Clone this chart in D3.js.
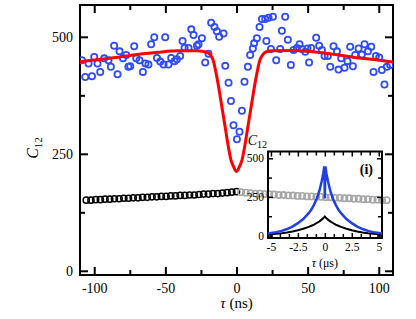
<!DOCTYPE html>
<html>
<head>
<meta charset="utf-8">
<script src="https://cdn.jsdelivr.net/npm/d3@7"></script>
<style>
  body { margin: 0; background: #fff; }
  text { font-family: "Liberation Serif", "Times New Roman", serif; fill: #000; }
</style>
</head>
<body>
<div id="chart"></div>
<script>
const width = 416, height = 319;
const margin = ({top: 5, right: 23, bottom: 44, left: 80});

// main panel data (tau in ns)
const blueTau = [-108.7,-106.3,-104,-101.6,-100,-97.7,-95.8,-93,-90,-88.3,-86,-83.6,-82.2,-79.8,-77.5,-76,
  -74.7,-71.9,-70.5,-68.2,-65.8,-64,-61.9,-60,-57.8,-55.9,-53.6,-51.3,-50.1,-47.8,-45.9,-43.6,-41.9,
  -39.6,-37.9,-36.5,-33.7,-31.8,-30.2,-27.8,-26.7,-24.3,-22,-19.7,-17.8,-15.5,-13.8,-12.2,-9.1,-7.9,
  -5.6,-3.9,-2.1,0.3,2.1,3.8,5.6,8,9.6,11.5,12.4,14.3,16.2,17.9,20.2,21,22.5,24.2,25.6,27.9,30.7,31.9,
  34.2,36.1,38.2,40.1,42.5,44.3,46,48.3,49.9,51,52.5,56,58.1,60,61.9,64.2,65.9,68.2,70.6,71.7,73.6,
  75.9,78,79.9,81.8,83.4,85.8,88.1,90,92.4,94.7,96.3,98,100.3,102.2,104,105.7,108];
const blueC12 = [450,414,443,416,457,443,425,454,450,436,481,420,469,454,461,436,
  437,480,454,450,425,443,441,484,499,455,447,441,499,441,455,448,452,
  459,491,476,476,516,504,481,484,497,445,464,530,521,512,500,507,438,
  402,363,311,281,297,342,404,436,461,475,486,497,521,538,538,491,541,474,543,450,474,513,
  543,494,440,472,476,484,474,468,475,445,476,498,481,472,459,459,436,480,469,430,454,
  434,448,479,437,461,475,462,484,469,479,425,459,456,429,398,436,440];

const fitTau = [-110,-95,-82,-70,-55,-40,-28,-24,-21,-18.5,-16.4,-14,-11.8,-10,-8,-6,-3.9,-2,0,
  2,3.9,6,8,10,11.8,14,16.4,18.5,21,25,40,50,60,72,83,95,110];
const fitC12 = [447,452,457,462,467,470,470,469,467,462,450,417,379,345,308,270,237,222,212,
  222,237,270,308,345,379,417,450,462,468,470,471,469,466,461,456,452,446];

const blackTau = [-105.6,-102.3,-99,-95.7,-92.4,-89.1,-85.8,-82.5,-79.2,-75.9,-72.6,-69.3,-66,-62.7,
  -59.4,-56.1,-52.8,-49.5,-46.2,-42.9,-39.6,-36.3,-33,-29.7,-26.4,-23.1,-19.8,-16.5,-13.2,-9.9,-6.6,-3.3,0];
const blackC12 = [151,151,152,152,153,153,154,154,155,155,156,156,157,157,158,158,159,159,160,160,
  161,161,162,162,163,164,164,165,165,166,167,168,169];
const greyTau = [3.3,6.6,9.9,13.2,16.5,19.8,23.1,26.4,29.7,33,36.3,39.6,42.9,46.2,49.5,52.8,56.1,
  59.4,62.7,66,69.3,72.6,75.9,79.2,82.5,85.8,89.1,92.4,95.7,99,102.3,105.6];
const greyC12 = [168,167,166,165,165,164,164,163,162,162,161,161,160,160,159,159,158,158,157,157,
  156,156,155,155,154,154,153,153,152,152,151,151];

const xMajor = [-100,-50,0,50,100], xMinor = [-75,-25,25,75];
const yMajor = [0,250,500], yMinor = [125,375];

// inset data (tau in us)
const insetTau = [-5.3,-5,-4.5,-4,-3.5,-3,-2.5,-2,-1.5,-1.25,-1,-0.75,-0.5,-0.3,-0.15,-0.05,0,
  0.05,0.15,0.3,0.5,0.75,1,1.25,1.5,2,2.5,3,3.5,4,4.5,5,5.3];
const insetBlue = [14,17,22,30,42,58,80,107,145,168,200,238,290,350,400,448,240,
  448,400,350,290,238,200,168,145,107,80,58,42,30,22,17,14];
const insetBlack = [8,9,12,15,20,26,34,44,56,63,70,81,92,103,112,119,123,
  119,112,103,92,81,70,63,56,44,34,26,20,15,12,9,8];
const ixMajor = [-5,-2.5,0,2.5,5];
const ixMinor = [-4.1667,-3.3333,-1.6667,-0.8333,0.8333,1.6667,3.3333,4.1667];
const iyMajor = [0,250,500], iyMinor = [125,375];

const x = d3.scaleLinear().domain([-110, 110]).range([margin.left, width - margin.right]);
const y = d3.scaleLinear().domain([-9, 568]).range([height - margin.bottom, margin.top]);

const ix = d3.scaleLinear().domain([-5.27, 5.3]).range([268, 382]);
const iy = d3.scaleLinear().domain([-16, 544]).range([238, 151.5]);

const fmt = d => String(d);

const svg = d3.select("#chart").append("svg").attr("width", width).attr("height", height);

function ticks(g, scale, orient, vals, size, labels, pad, fs) {
  let ax = orient === "bottom" ? d3.axisBottom(scale) : orient === "top" ? d3.axisTop(scale)
         : orient === "left" ? d3.axisLeft(scale) : d3.axisRight(scale);
  ax.tickValues(vals).tickSizeInner(-size).tickSizeOuter(0).tickPadding(pad)
    .tickFormat(labels ? fmt : "");
  g.call(ax);
  g.select(".domain").remove();
  g.selectAll(".tick line").attr("stroke", "#000").attr("stroke-width", 2);
  g.selectAll(".tick text").attr("font-size", fs).attr("font-family", "Liberation Serif").attr("fill", "#000");
}

const x0 = margin.left, x1 = width - margin.right, y0 = height - margin.bottom, y1 = margin.top;

// main axes
ticks(svg.append("g").attr("transform", `translate(0,${y0})`), x, "bottom", xMajor, 8, true, 8, 14);
ticks(svg.append("g").attr("transform", `translate(0,${y0})`), x, "bottom", xMinor, 5, false, 0, 14);
ticks(svg.append("g").attr("transform", `translate(0,${y1})`), x, "top", xMajor, 8, false, 0, 14);
ticks(svg.append("g").attr("transform", `translate(0,${y1})`), x, "top", xMinor, 5, false, 0, 14);
ticks(svg.append("g").attr("transform", `translate(${x0},0)`), y, "left", yMajor, 8, true, 7, 14);
ticks(svg.append("g").attr("transform", `translate(${x0},0)`), y, "left", yMinor, 5, false, 0, 14);
ticks(svg.append("g").attr("transform", `translate(${x1},0)`), y, "right", yMajor, 8, false, 0, 14);
ticks(svg.append("g").attr("transform", `translate(${x1},0)`), y, "right", yMinor, 5, false, 0, 14);

svg.append("rect").attr("x", x0).attr("y", y1).attr("width", x1 - x0).attr("height", y0 - y1)
  .attr("fill", "none").attr("stroke", "#000").attr("stroke-width", 2);

// axis labels
const xl = svg.append("text").attr("x", x(0)).attr("y", 308).attr("text-anchor", "middle").attr("font-size", 15);
xl.append("tspan").attr("font-style", "italic").text("τ");
xl.append("tspan").text(" (ns)");

const yl = svg.append("text").attr("transform", "translate(38,148) rotate(-90)")
  .attr("text-anchor", "middle").attr("font-size", 16);
yl.append("tspan").attr("font-style", "italic").text("C");
yl.append("tspan").attr("font-size", 11).attr("dy", 4).text("12");

// data
const clip = svg.append("clipPath").attr("id", "clip").append("rect")
  .attr("x", x0).attr("y", y1).attr("width", x1 - x0).attr("height", y0 - y1);
const plot = svg.append("g").attr("clip-path", "url(#clip)");

plot.append("g").selectAll("circle").data(d3.zip(blackTau, blackC12)).join("circle")
  .attr("cx", d => x(d[0])).attr("cy", d => y(d[1])).attr("r", 3.1)
  .attr("fill", "none").attr("stroke", "#000").attr("stroke-width", 1.5);

plot.append("g").selectAll("circle").data(d3.zip(blueTau, blueC12)).join("circle")
  .attr("cx", d => x(d[0])).attr("cy", d => y(d[1])).attr("r", 3.1)
  .attr("fill", "none").attr("stroke", "#2f4bff").attr("stroke-width", 1.8);

plot.append("path").datum(d3.zip(fitTau, fitC12))
  .attr("d", d3.line().x(d => x(d[0])).y(d => y(d[1])).curve(d3.curveMonotoneX))
  .attr("fill", "none").attr("stroke", "#ff0000").attr("stroke-width", 3);

// inset
const ins = svg.append("g");
ticks(ins.append("g").attr("transform", "translate(0,238)"), ix, "bottom", ixMajor, 5, true, 5, 11.5);
ticks(ins.append("g").attr("transform", "translate(0,238)"), ix, "bottom", ixMinor, 4, false, 0, 11.5);
ticks(ins.append("g").attr("transform", "translate(0,151.5)"), ix, "top", ixMajor, 5, false, 0, 11.5);
ticks(ins.append("g").attr("transform", "translate(0,151.5)"), ix, "top", ixMinor, 4, false, 0, 11.5);
ticks(ins.append("g").attr("transform", "translate(268,0)"), iy, "left", iyMajor, 5, true, 4, 11.5);
ticks(ins.append("g").attr("transform", "translate(268,0)"), iy, "left", iyMinor, 4, false, 0, 11.5);
ticks(ins.append("g").attr("transform", "translate(382,0)"), iy, "right", iyMajor, 5, false, 0, 11.5);
ticks(ins.append("g").attr("transform", "translate(382,0)"), iy, "right", iyMinor, 4, false, 0, 11.5);
ins.selectAll(".tick line").attr("stroke-width", 1.5);
ins.append("rect").attr("x", 268).attr("y", 151.5).attr("width", 114).attr("height", 86.5)
  .attr("fill", "none").attr("stroke", "#000").attr("stroke-width", 2);

// grey circles cross the inset
plot.append("g").selectAll("circle").data(d3.zip(greyTau, greyC12)).join("circle")
  .attr("cx", d => x(d[0])).attr("cy", d => y(d[1])).attr("r", 3.1)
  .attr("fill", "none").attr("stroke", "#a6a6a6").attr("stroke-width", 1.6);

const iline = d3.line().x(d => ix(d[0])).y(d => iy(d[1]));
ins.append("path").datum(d3.zip(insetTau, insetBlack)).attr("d", iline)
  .attr("fill", "none").attr("stroke", "#000").attr("stroke-width", 2);
ins.append("path").datum(d3.zip(insetTau, insetBlue)).attr("d", iline)
  .attr("fill", "none").attr("stroke", "#1f3fe8").attr("stroke-width", 2.5);

const il = ins.append("text").attr("x", ix(0)).attr("y", 267).attr("text-anchor", "middle").attr("font-size", 12);
il.append("tspan").attr("font-style", "italic").text("τ");
il.append("tspan").text(" (μs)");

const cl = ins.append("text").attr("x", 267).attr("y", 145).attr("text-anchor", "end").attr("font-size", 14);
cl.append("tspan").attr("font-style", "italic").text("C");
cl.append("tspan").attr("font-size", 10).attr("dy", 3).text("12");

ins.append("text").attr("x", 373).attr("y", 174).attr("text-anchor", "end")
  .attr("font-size", 14).attr("font-weight", "bold").text("(i)");
</script>
</body>
</html>
